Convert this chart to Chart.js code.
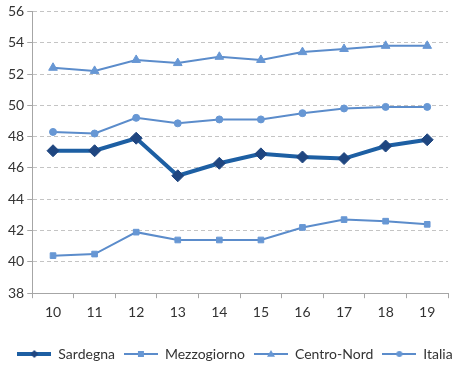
<!DOCTYPE html>
<html>
<head>
<meta charset="utf-8">
<script src="https://cdn.jsdelivr.net/npm/chart.js@4/dist/chart.umd.min.js"></script>
<style>
  html, body { margin: 0; padding: 0; background: #fff; }
  #box { width: 465px; height: 372px; }
</style>
</head>
<body>
<div id="box"><canvas id="grafico"></canvas></div>
<script>
const anni = ['10', '11', '12', '13', '14', '15', '16', '17', '18', '19'];
const sardegna = [47.1, 47.1, 47.9, 45.5, 46.3, 46.9, 46.7, 46.6, 47.4, 47.8];
const mezzogiorno = [40.4, 40.5, 41.9, 41.4, 41.4, 41.4, 42.2, 42.7, 42.6, 42.4];
const centroNord = [52.4, 52.2, 52.9, 52.7, 53.1, 52.9, 53.4, 53.6, 53.8, 53.8];
const italia = [48.3, 48.2, 49.2, 48.85, 49.1, 49.1, 49.5, 49.8, 49.9, 49.9];
const yTicks = [38, 40, 42, 44, 46, 48, 50, 52, 54, 56];

const scuro = '#1d5fa3';
const scuroPunto = '#1f4680';
const chiaro = '#5b8ccb';
const chiaroPunto = '#6797d4';

// piccola icona linea + marcatore per la legenda
function iconaLegenda(colore, coloreP, spessore, forma, r) {
    const c = document.createElement('canvas');
    c.width = 34; c.height = 14;
    const ctx = c.getContext('2d');
    ctx.strokeStyle = colore;
    ctx.lineWidth = spessore;
    ctx.beginPath(); ctx.moveTo(0, 7); ctx.lineTo(34, 7); ctx.stroke();
    ctx.fillStyle = coloreP;
    ctx.beginPath();
    if (forma === 'rombo') {
        ctx.moveTo(17, 7 - r); ctx.lineTo(17 + r, 7); ctx.lineTo(17, 7 + r); ctx.lineTo(17 - r, 7);
    } else if (forma === 'quadrato') {
        ctx.rect(17 - r, 7 - r, 2 * r, 2 * r);
    } else if (forma === 'triangolo') {
        ctx.moveTo(17, 7 - r); ctx.lineTo(17 + r, 7 + r * 0.7); ctx.lineTo(17 - r, 7 + r * 0.7);
    } else {
        ctx.arc(17, 7, r, 0, Math.PI * 2);
    }
    ctx.closePath();
    ctx.fill();
    return c;
}

const icone = [
    iconaLegenda(scuro, scuroPunto, 4, 'rombo', 4),
    iconaLegenda(chiaro, chiaroPunto, 2, 'quadrato', 3),
    iconaLegenda(chiaro, chiaroPunto, 2, 'triangolo', 4),
    iconaLegenda(chiaro, chiaroPunto, 2, 'cerchio', 3)
];

const grafico = new Chart(document.getElementById('grafico'), {
    type: 'line',
    data: {
        labels: anni,
        datasets: [
            {
                label: 'Sardegna', data: sardegna,
                borderColor: scuro, borderWidth: 4,
                pointStyle: 'rectRot', pointRadius: 6,
                pointBackgroundColor: scuroPunto, pointBorderColor: scuroPunto, pointBorderWidth: 1
            },
            {
                label: 'Mezzogiorno', data: mezzogiorno,
                borderColor: chiaro, borderWidth: 2,
                pointStyle: 'rect', pointRadius: 4,
                pointBackgroundColor: chiaroPunto, pointBorderColor: chiaroPunto, pointBorderWidth: 1
            },
            {
                label: 'Centro-Nord', data: centroNord,
                borderColor: chiaro, borderWidth: 2,
                pointStyle: 'triangle', pointRadius: 5,
                pointBackgroundColor: chiaroPunto, pointBorderColor: chiaroPunto, pointBorderWidth: 1
            },
            {
                label: 'Italia', data: italia,
                borderColor: chiaro, borderWidth: 2,
                pointStyle: 'circle', pointRadius: 3.5,
                pointBackgroundColor: chiaroPunto, pointBorderColor: chiaroPunto, pointBorderWidth: 1
            }
        ]
    },
    options: {
        responsive: true,
        maintainAspectRatio: false,
        animation: false,
        layout: { padding: { top: 7, right: 0, left: 5, bottom: 1 } },
        plugins: {
            tooltip: { enabled: false },
            legend: {
                position: 'bottom',
                labels: {
                    font: { family: 'Lato', size: 14 },
                    color: '#333',
                    usePointStyle: true,
                    pointStyleWidth: 34,
                    padding: 9,
                    generateLabels: chart => chart.data.datasets.map((ds, i) => ({
                        text: ds.label,
                        pointStyle: icone[i],
                        fillStyle: ds.borderColor,
                        strokeStyle: ds.borderColor,
                        lineWidth: 0,
                        hidden: false,
                        datasetIndex: i,
                        fontColor: '#333'
                    }))
                }
            }
        },
        scales: {
            x: {
                offset: true,
                border: { color: '#a6a6a6', width: 1 },
                grid: { drawOnChartArea: false, drawTicks: true, tickLength: 5, tickColor: '#a6a6a6', offset: true },
                ticks: { font: { family: 'Lato', size: 14 }, color: '#333', padding: 6 },
                afterFit: scale => { scale.height += 11; }
            },
            y: {
                min: 38, max: 56,
                afterBuildTicks: axis => { axis.ticks = yTicks.map(v => ({ value: v })); },
                border: { color: '#a6a6a6', width: 1, dash: [4, 3] },
                grid: { color: '#c4c4c4', tickLength: 5, tickColor: '#a6a6a6' },
                ticks: { font: { family: 'Lato', size: 14 }, color: '#333', padding: 3 }
            },
            // asse vuoto a destra: solo per lasciare margine all'area del grafico
            margine: {
                position: 'right',
                ticks: { display: false },
                grid: { display: false },
                border: { display: false },
                afterFit: scale => { scale.width = 17; }
            }
        }
    }
});
</script>
</body>
</html>
